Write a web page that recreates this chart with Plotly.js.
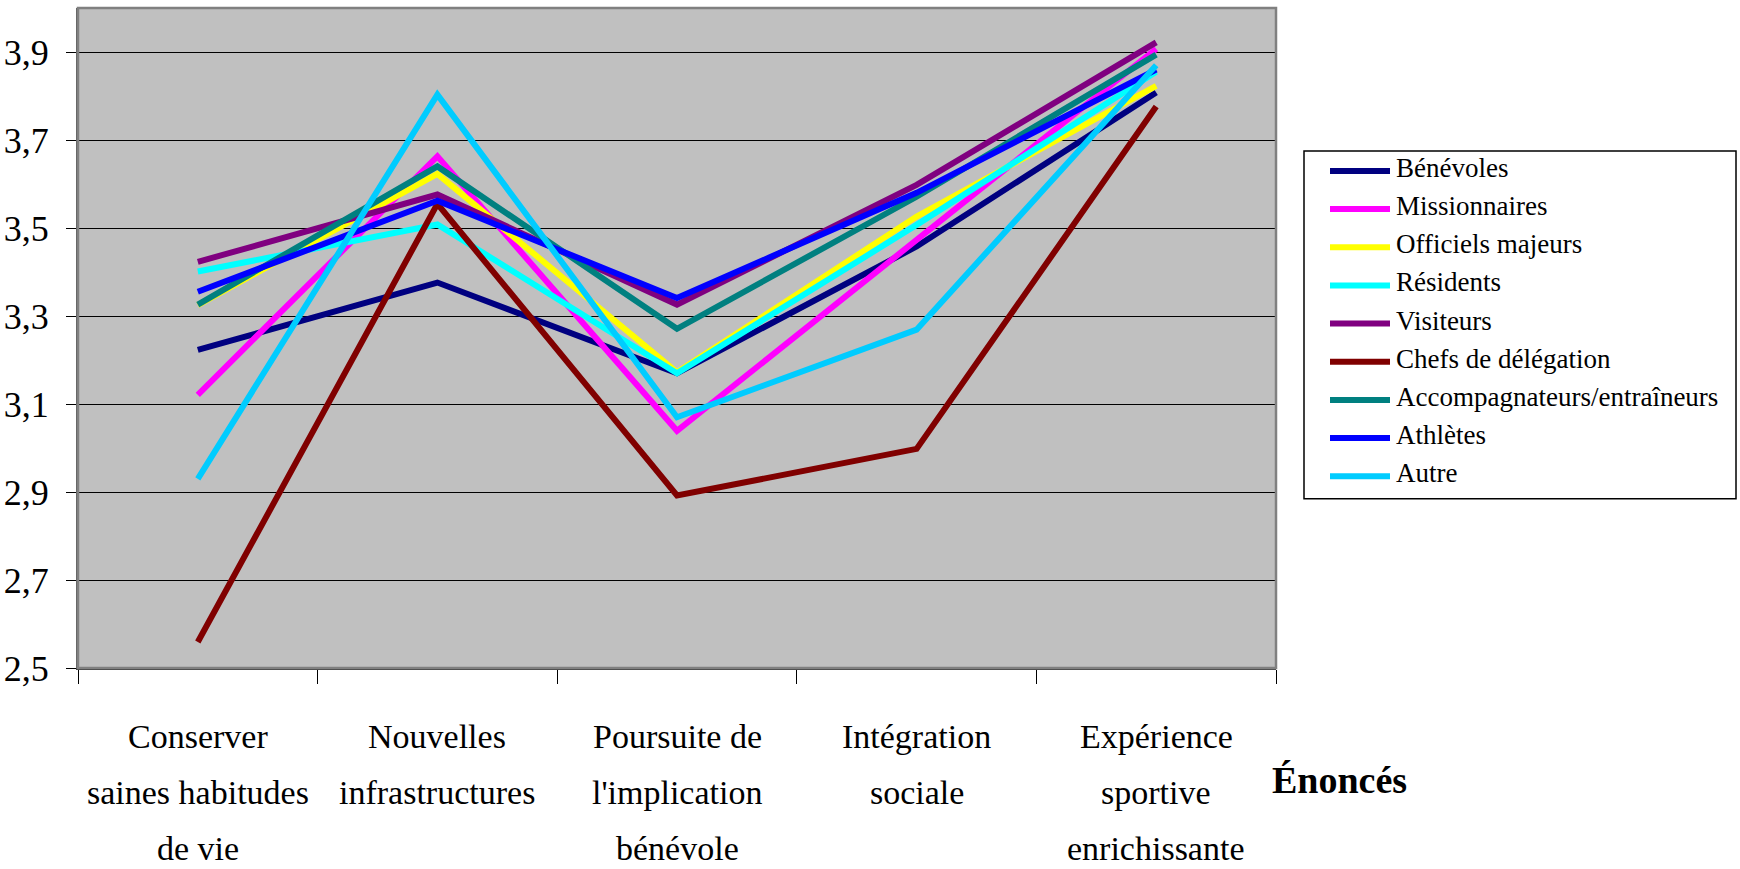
<!DOCTYPE html>
<html>
<head>
<meta charset="utf-8">
<script src="https://cdn.plot.ly/plotly-3.0.1.min.js"></script>
<style>html,body{margin:0;padding:0;background:#fff;}#chart{width:1740px;height:869px;}</style>
</head>
<body>
<div id="chart"></div>
<script>
// ---------- DATA ----------
const categories = [
  "Conserver<br>saines habitudes<br>de vie",
  "Nouvelles<br>infrastructures",
  "Poursuite de<br>l'implication<br>bénévole",
  "Intégration<br>sociale",
  "Expérience<br>sportive<br>enrichissante"
];
const seriesNames = ["Bénévoles", "Missionnaires", "Officiels majeurs", "Résidents", "Visiteurs",
  "Chefs de délégation", "Accompagnateurs/entraîneurs", "Athlètes", "Autre"];
const benevoles       = [3.223, 3.376, 3.170, 3.458, 3.808];
const missionnaires   = [3.121, 3.663, 3.039, 3.473, 3.907];
const officiels       = [3.325, 3.623, 3.172, 3.526, 3.823];
const residents       = [3.401, 3.508, 3.170, 3.507, 3.855];
const visiteurs       = [3.423, 3.576, 3.326, 3.598, 3.922];
const chefs           = [2.559, 3.555, 2.892, 2.998, 3.776];
const accompagnateurs = [3.326, 3.640, 3.271, 3.571, 3.894];
const athletes        = [3.355, 3.562, 3.341, 3.580, 3.860];
const autre           = [2.930, 3.803, 3.070, 3.269, 3.870];
const yTickValues = [2.5, 2.7, 2.9, 3.1, 3.3, 3.5, 3.7, 3.9];
const yTickLabels = ["2,5", "2,7", "2,9", "3,1", "3,3", "3,5", "3,7", "3,9"];
const xAxisTitle = "Énoncés";

// ---------- STYLE ----------
const seriesValues = [benevoles, missionnaires, officiels, residents, visiteurs, chefs, accompagnateurs, athletes, autre];
const seriesColors = ["#000080", "#FF00FF", "#FFFF00", "#00FFFF", "#800080", "#800000", "#008080", "#0000FF", "#00CCFF"];
const FONT = "Times New Roman, Liberation Serif, DejaVu Serif, serif";

const W = 1740, H = 869;
const plotL = 78, plotR = 1276, plotT = 8, plotB = 668.5;
const px2x = p => (p - plotL) / (plotR - plotL);
const px2y = p => (plotB - p) / (plotB - plotT);

const traces = seriesValues.map((vals, i) => ({
  type: "scatter",
  mode: "lines",
  name: seriesNames[i],
  x: categories,
  y: vals,
  line: { color: seriesColors[i], width: 6 },
  showlegend: false,
  hoverinfo: "name+y"
}));

const annotations = [];
const shapes = [];

// multi-line category labels with wide line spacing
categories.forEach((cat, i) => {
  cat.split("<br>").forEach((line, j) => {
    annotations.push({
      x: i, xref: "x", y: px2y(737 + j * 56), yref: "paper",
      text: line, showarrow: false, xanchor: "center", yanchor: "middle",
      font: { family: FONT, size: 34, color: "#000" }
    });
  });
});

// axis title
annotations.push({
  x: px2x(1339), xref: "paper", y: px2y(781), yref: "paper",
  text: "<b>" + xAxisTitle + "</b>", showarrow: false, xanchor: "center", yanchor: "middle",
  font: { family: FONT, size: 38, color: "#000" }
});

// manual legend
const legL = 1304, legR = 1736, legT = 151, legB = 499;
shapes.push({ type: "rect", xref: "paper", yref: "paper",
  x0: px2x(legL), x1: px2x(legR), y0: px2y(legB), y1: px2y(legT),
  line: { color: "#000", width: 1.5 }, fillcolor: "#fff", layer: "above" });
seriesNames.forEach((nm, i) => {
  const yc = 171 + i * 38.2;
  shapes.push({ type: "line", xref: "paper", yref: "paper",
    x0: px2x(1330), x1: px2x(1390), y0: px2y(yc), y1: px2y(yc),
    line: { color: seriesColors[i], width: 6 }, layer: "above" });
  annotations.push({
    x: px2x(1394), xref: "paper", y: px2y(yc - 3), yref: "paper",
    text: nm, showarrow: false, xanchor: "left", yanchor: "middle",
    font: { family: FONT, size: 27, color: "#000" }
  });
});

// plot area border
shapes.push({ type: "rect", xref: "paper", yref: "paper", x0: 0, x1: 1, y0: 0, y1: 1,
  line: { color: "#808080", width: 2.5 }, layer: "above" });

const layout = {
  width: W, height: H,
  margin: { l: plotL, r: W - plotR, t: plotT, b: H - plotB, pad: 0 },
  paper_bgcolor: "#ffffff",
  plot_bgcolor: "#C0C0C0",
  showlegend: false,
  font: { family: FONT, color: "#000" },
  xaxis: {
    type: "category",
    range: [-0.5, 4.5],
    tickson: "boundaries",
    ticks: "outside", ticklen: 14, tickcolor: "#000", tickwidth: 1,
    showticklabels: false,
    showgrid: false, zeroline: false,
    showline: true, linecolor: "#404040", linewidth: 2
  },
  yaxis: {
    range: [2.5, 4.0],
    tickmode: "array", tickvals: yTickValues, ticktext: yTickLabels,
    ticks: "outside", ticklen: 10, tickcolor: "#000", tickwidth: 1,
    tickfont: { family: FONT, size: 36, color: "#000" },
    ticklabelstandoff: 10,
    showgrid: true, gridcolor: "#000", gridwidth: 1,
    zeroline: false,
    showline: true, linecolor: "#606060", linewidth: 2
  },
  annotations: annotations,
  shapes: shapes
};

Plotly.newPlot("chart", traces, layout, { displayModeBar: false, staticPlot: true });
</script>
</body>
</html>
